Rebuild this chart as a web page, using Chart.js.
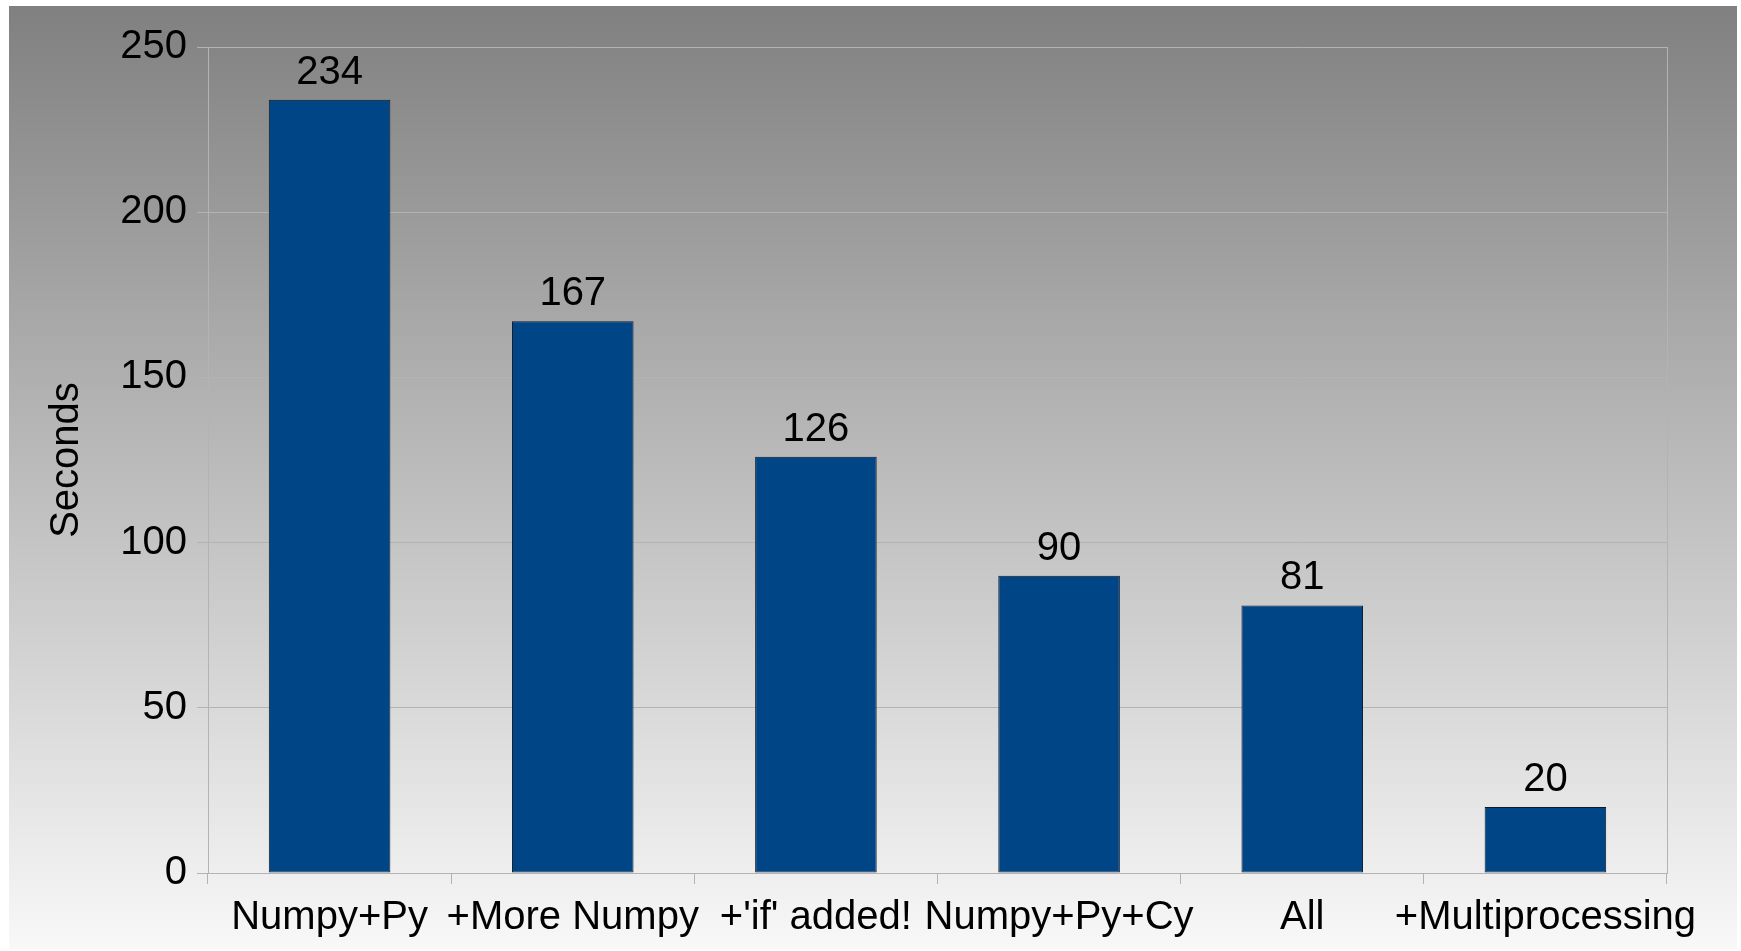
<!DOCTYPE html>
<html>
<head>
<meta charset="utf-8">
<title>Seconds per version</title>
<script src="https://cdn.jsdelivr.net/npm/chart.js@4/dist/chart.umd.min.js"></script>
<style>
  html, body { margin : 0; padding : 0; background : #ffffff; }
  canvas { display : block; }
</style>
</head>
<body>
<canvas id="timingChart" width="1741" height="951"></canvas>
<script>
// chart data
var categories = ['Numpy+Py', '+More Numpy', "+'if' added!", 'Numpy+Py+Cy', 'All', '+Multiprocessing'];
var seconds = [234, 167, 126, 90, 81, 20];
var yTicks = [0, 50, 100, 150, 200, 250];

var FONT = '"Liberation Sans", Arial, sans-serif';
var GRID = '#b3b3b3';

/**
 * paint the grey gradient panel behind the chart
 */
var backgroundPlugin = {
  id : 'panelBackground',
  beforeDraw : function (chart) {
    var ctx = chart.ctx;
    var grad = ctx.createLinearGradient(0, 6, 0, 949);
    grad.addColorStop(0, '#808080');
    grad.addColorStop(1, '#f8f8f8');
    ctx.save();
    ctx.fillStyle = grad;
    ctx.fillRect(9, 6, 1728, 943);
    ctx.restore();
  },
  beforeDatasetsDraw : function (chart) {
    // right hand border of the plot area
    var area = chart.chartArea;
    var ctx = chart.ctx;
    ctx.save();
    ctx.strokeStyle = GRID;
    ctx.lineWidth = 1;
    ctx.beginPath();
    ctx.moveTo(Math.round(area.right) + 0.5, area.top);
    ctx.lineTo(Math.round(area.right) + 0.5, area.bottom);
    ctx.stroke();
    ctx.restore();
  },
};

/**
 * write the value above each bar
 */
var valueLabelPlugin = {
  id : 'valueLabels',
  afterDatasetsDraw : function (chart) {
    var ctx = chart.ctx;
    var meta = chart.getDatasetMeta(0);
    ctx.save();
    ctx.font = '40px ' + FONT;
    ctx.fillStyle = '#000000';
    ctx.textAlign = 'center';
    ctx.textBaseline = 'alphabetic';
    meta.data.forEach(function (bar, i) {
      ctx.fillText(String(seconds[i]), bar.x, bar.y - 16);
    });
    ctx.restore();
  },
};

var ctx = document.getElementById('timingChart').getContext('2d');

var timingChart = new Chart(ctx, {
  type : 'bar',
  plugins : [backgroundPlugin, valueLabelPlugin],
  data : {
    labels : categories,
    datasets : [
      {
        label : 'Seconds',
        data : seconds,
        backgroundColor : '#004586',
        borderColor : '#0d1a2a',
        borderWidth : 1,
        borderSkipped : false,
        barPercentage : 0.5,
        categoryPercentage : 1,
      },
    ],
  },
  options : {
    responsive : false,
    animation : false,
    layout : {
      padding : { top : 47, right : 74, bottom : 0, left : 0 },
    },
    plugins : {
      legend : { display : false },
      tooltip : { enabled : false },
    },
    scales : {
      x : {
        offset : true,
        grid : {
          offset : true,
          drawOnChartArea : false,
          color : GRID,
          tickLength : 11,
        },
        border : { color : GRID, width : 1 },
        ticks : {
          color : '#000000',
          font : { family : FONT, size : 40 },
          padding : 10,
          maxRotation : 0,
          autoSkip : false,
        },
        afterFit : function (scale) { scale.height = 78; },
      },
      y : {
        min : 0,
        max : 250,
        afterBuildTicks : function (scale) {
          scale.ticks = yTicks.map(function (v) { return { value : v }; });
        },
        grid : {
          color : GRID,
          tickLength : 11,
        },
        border : { color : GRID, width : 1 },
        ticks : {
          color : '#000000',
          font : { family : FONT, size : 40 },
          padding : 10,
        },
        title : {
          display : true,
          text : 'Seconds',
          color : '#000000',
          font : { family : FONT, size : 40 },
          padding : { top : 43, bottom : 0 },
        },
        afterFit : function (scale) { scale.width = 208; },
      },
    },
  },
});
</script>
</body>
</html>
